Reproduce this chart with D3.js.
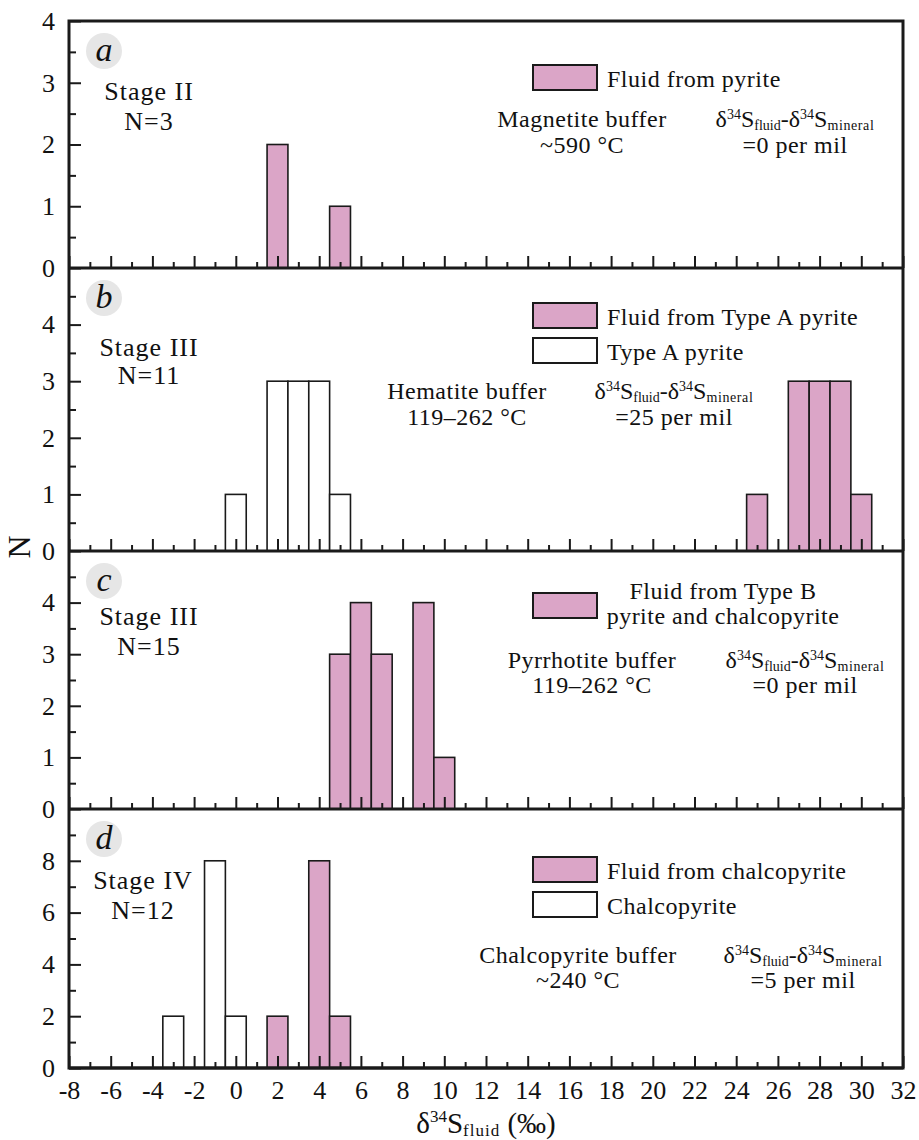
<!DOCTYPE html>
<html>
<head>
<meta charset="utf-8">
<script src="https://cdn.jsdelivr.net/npm/d3@7"></script>
<style>
  body { margin: 0; background: #fff; }
  text { font-family: "Liberation Serif", "Times New Roman", serif; fill: #111; }
</style>
</head>
<body>
<div id="chart"></div>
<script>
// Data
// ==============================
var xMajorTicks = d3.range(-8, 33, 2);
var xMinorTicks = d3.range(-7, 32, 2);

// bin centres (per mil) and counts, bin width = 1
var aFluidBins = [2, 5];
var aFluidCounts = [2, 1];
var bMineralBins = [0, 2, 3, 4, 5];
var bMineralCounts = [1, 3, 3, 3, 1];
var bFluidBins = [25, 27, 28, 29, 30];
var bFluidCounts = [1, 3, 3, 3, 1];
var cFluidBins = [5, 6, 7, 9, 10];
var cFluidCounts = [3, 4, 3, 4, 1];
var dMineralBins = [-3, -1, 0];
var dMineralCounts = [2, 8, 2];
var dFluidBins = [2, 4, 5];
var dFluidCounts = [2, 8, 2];

var yMaxes = [4, 5, 5, 10];
var yMajorSteps = [1, 1, 1, 2];
var yLabelMax = [4, 4, 4, 8];

var panelLetters = ["a", "b", "c", "d"];
var stageNames = ["Stage II", "Stage III", "Stage III", "Stage IV"];
var sampleCounts = ["N=3", "N=11", "N=15", "N=12"];
var bufferNames = ["Magnetite buffer", "Hematite buffer", "Pyrrhotite buffer", "Chalcopyrite buffer"];
var bufferTemps = ["~590 °C", "119–262 °C", "119–262 °C", "~240 °C"];
var fractionations = ["=0 per mil", "=25 per mil", "=0 per mil", "=5 per mil"];
var legendFluid = ["Fluid from pyrite", "Fluid from Type A pyrite", "Fluid from Type B|pyrite and chalcopyrite", "Fluid from chalcopyrite"];
var legendMineral = [null, "Type A pyrite", null, "Chalcopyrite"];

var fluidBins = [aFluidBins, bFluidBins, cFluidBins, dFluidBins];
var fluidCounts = [aFluidCounts, bFluidCounts, cFluidCounts, dFluidCounts];
var mineralBins = [[], bMineralBins, [], dMineralBins];
var mineralCounts = [[], bMineralCounts, [], dMineralCounts];

// Layout
// ==============================
var svgWidth = 919;
var svgHeight = 1140;
var left = 69, right = 903;
var pink = "#dba5c7";
var ink = "#1a1a1a";
var serif = "'Liberation Serif', 'Times New Roman', serif";

var layout = [
  { top: 21,  bottom: 268,  stage: [149, 79, 109], legend: 44, buf: [582, 106, 132], frac: [795, 106, 132] },
  { top: 268, bottom: 551,  stage: [149, 88, 116], legend: 35, buf: [467, 131, 157], frac: [674, 131, 157] },
  { top: 551, bottom: 809,  stage: [149, 74, 104], legend: 42, buf: [592, 117, 142], frac: [805, 117, 142] },
  { top: 809, bottom: 1068, stage: [143, 80, 110], legend: 48, buf: [578, 154, 179], frac: [803, 154, 179] }
];

var svg = d3.select("#chart")
  .append("svg")
  .attr("width", svgWidth)
  .attr("height", svgHeight)
  .attr("font-family", serif);

var xScale = d3.scaleLinear().domain([-8, 32]).range([left, right]);

function drawBars(g, bins, counts, y, fill) {
  g.selectAll(null)
    .data(bins.map(function(b, i) { return { x: b, n: counts[i] }; }))
    .enter()
    .append("rect")
    .attr("x", d => xScale(d.x - 0.5))
    .attr("width", d => xScale(d.x + 0.5) - xScale(d.x - 0.5))
    .attr("y", d => y(d.n))
    .attr("height", d => y(0) - y(d.n))
    .attr("fill", fill)
    .attr("stroke", ink)
    .attr("stroke-width", 1.6);
}

function fracText(g, cx, cy) {
  var t = g.append("text")
    .attr("x", cx).attr("y", cy)
    .attr("text-anchor", "middle")
    .attr("font-size", 24);
  t.append("tspan").text("δ");
  t.append("tspan").attr("font-size", 14).attr("dy", -8.5).text("34");
  t.append("tspan").attr("dy", 8.5).text("S");
  t.append("tspan").attr("font-size", 14).attr("dy", 3).text("fluid");
  t.append("tspan").attr("dy", -3).text("-δ");
  t.append("tspan").attr("font-size", 14).attr("dy", -8.5).text("34");
  t.append("tspan").attr("dy", 8.5).text("S");
  t.append("tspan").attr("font-size", 14).attr("dy", 3).attr("letter-spacing", 0.6).text("mineral");
}

layout.forEach(function(p, i) {
  var g = svg.append("g");
  var y = d3.scaleLinear().domain([0, yMaxes[i]]).range([p.bottom, p.top]);

  // bars
  drawBars(g, mineralBins[i], mineralCounts[i], y, "#fff");
  drawBars(g, fluidBins[i], fluidCounts[i], y, pink);

  // x ticks (inward), labels only under the last panel
  var xMajor = d3.axisBottom(xScale).tickValues(xMajorTicks).tickSize(-12).tickPadding(13)
    .tickFormat(d => i === 3 ? String(d) : "");
  var xMinor = d3.axisBottom(xScale).tickValues(xMinorTicks).tickSize(-6).tickFormat(() => "");
  var gx = g.append("g").attr("transform", `translate(0, ${p.bottom})`).call(xMajor);
  g.append("g").attr("transform", `translate(0, ${p.bottom})`).call(xMinor)
    .call(s => s.select(".domain").remove());
  gx.select(".domain").remove();
  gx.selectAll("text").attr("font-size", 26).attr("font-family", serif).attr("fill", "#111");

  // y ticks (inward)
  var step = yMajorSteps[i];
  var yMajor = d3.axisLeft(y).tickValues(d3.range(0, yLabelMax[i] + 0.01, step))
    .tickSize(-12).tickPadding(14).tickFormat(d3.format("d"));
  var yMinor = d3.axisLeft(y).tickValues(d3.range(step / 2, yMaxes[i], step)).tickSize(-7).tickFormat(() => "");
  var gy = g.append("g").attr("transform", `translate(${left}, 0)`).call(yMajor);
  gy.select(".domain").remove();
  gy.selectAll("text").attr("font-size", 26).attr("font-family", serif).attr("fill", "#111").attr("x", -14);
  g.append("g").attr("transform", `translate(${left}, 0)`).call(yMinor)
    .call(s => s.select(".domain").remove());

  g.selectAll(".tick line").attr("stroke", ink).attr("stroke-width", 2);

  // panel letter
  g.append("circle").attr("cx", 104).attr("cy", p.top + 30).attr("r", 18).attr("fill", "#e6e6e6");
  g.append("text").attr("x", 104).attr("y", p.top + 40)
    .attr("text-anchor", "middle").attr("font-size", 34).attr("font-style", "italic")
    .text(panelLetters[i]);

  // stage text
  g.append("text").attr("x", p.stage[0]).attr("y", p.top + p.stage[1])
    .attr("text-anchor", "middle").attr("font-size", 26).attr("letter-spacing", 1)
    .text(stageNames[i]);
  g.append("text").attr("x", p.stage[0]).attr("y", p.top + p.stage[2])
    .attr("text-anchor", "middle").attr("font-size", 26).attr("letter-spacing", 1)
    .text(sampleCounts[i]);

  // legend
  var ly = p.top + p.legend;
  g.append("rect").attr("x", 533).attr("y", ly).attr("width", 64).attr("height", 25)
    .attr("fill", pink).attr("stroke", ink).attr("stroke-width", 2);
  var lines = legendFluid[i].split("|");
  if (lines.length === 1) {
    g.append("text").attr("x", 607).attr("y", ly + 22).attr("font-size", 24)
      .attr("letter-spacing", 0.5).text(lines[0]);
  } else {
    lines.forEach(function(l, k) {
      g.append("text").attr("x", 723).attr("y", ly + 6 + k * 25)
        .attr("text-anchor", "middle").attr("font-size", 24).attr("letter-spacing", 0.5).text(l);
    });
  }
  if (legendMineral[i]) {
    g.append("rect").attr("x", 533).attr("y", ly + 35).attr("width", 64).attr("height", 25)
      .attr("fill", "#fff").attr("stroke", ink).attr("stroke-width", 2);
    g.append("text").attr("x", 607).attr("y", ly + 57).attr("font-size", 24)
      .attr("letter-spacing", 0.5).text(legendMineral[i]);
  }

  // buffer and fractionation notes
  g.append("text").attr("x", p.buf[0]).attr("y", p.top + p.buf[1])
    .attr("text-anchor", "middle").attr("font-size", 24).attr("letter-spacing", 0.5).text(bufferNames[i]);
  g.append("text").attr("x", p.buf[0]).attr("y", p.top + p.buf[2])
    .attr("text-anchor", "middle").attr("font-size", 24).attr("letter-spacing", 0.5).text(bufferTemps[i]);
  fracText(g, p.frac[0], p.top + p.frac[1]);
  g.append("text").attr("x", p.frac[0]).attr("y", p.top + p.frac[2])
    .attr("text-anchor", "middle").attr("font-size", 24).attr("letter-spacing", 0.5).text(fractionations[i]);

  // panel bottom line
  svg.append("line").attr("x1", left).attr("x2", right)
    .attr("y1", p.bottom).attr("y2", p.bottom)
    .attr("stroke", ink).attr("stroke-width", 3);
});

// frame
svg.append("rect")
  .attr("x", left).attr("y", layout[0].top)
  .attr("width", right - left).attr("height", layout[3].bottom - layout[0].top)
  .attr("fill", "none").attr("stroke", ink).attr("stroke-width", 3);

// axis titles
var xt = svg.append("text").attr("x", (left + right) / 2).attr("y", 1133)
  .attr("text-anchor", "middle").attr("font-size", 29);
xt.append("tspan").text("δ");
xt.append("tspan").attr("font-size", 17).attr("dy", -11).text("34");
xt.append("tspan").attr("dy", 11).text("S");
xt.append("tspan").attr("font-size", 17).attr("dy", 3).attr("letter-spacing", 1).text("fluid");
xt.append("tspan").attr("dy", -3).text(" (‰)");

svg.append("text")
  .attr("transform", "translate(30, 547) rotate(-90)")
  .attr("text-anchor", "middle")
  .attr("font-size", 32)
  .text("N");
</script>
</body>
</html>
